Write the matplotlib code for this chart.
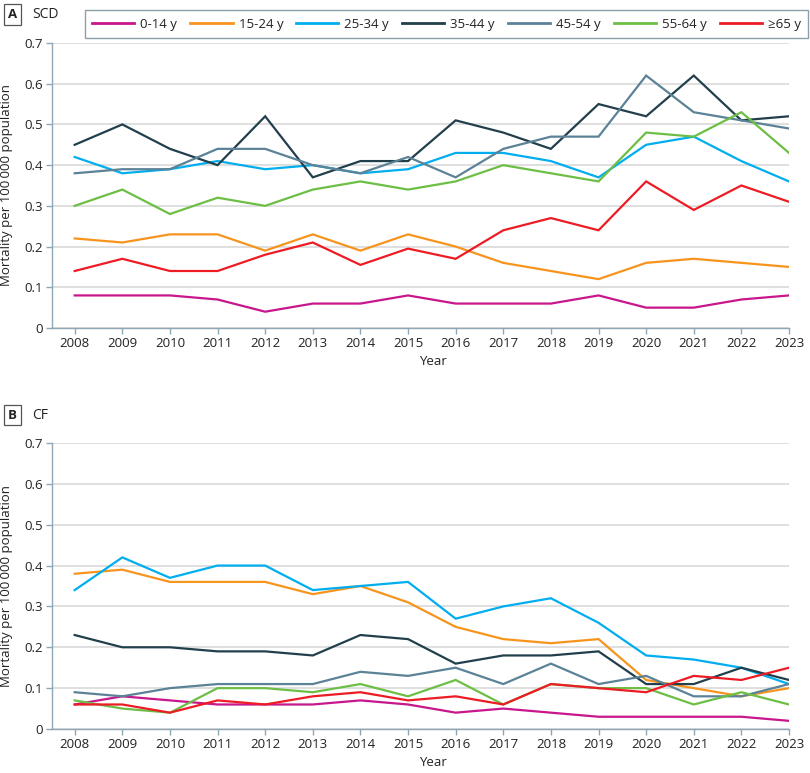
import matplotlib
matplotlib.use("Agg")
import matplotlib.pyplot as plt
from matplotlib.ticker import FuncFormatter

plt.rcParams['font.family'] = ['Open Sans', 'DejaVu Sans']

years = list(range(2008, 2024))
groups = ["0-14 y", "15-24 y", "25-34 y", "35-44 y", "45-54 y", "55-64 y", "≥65 y"]
colors = ["#C8168C", "#F7941D", "#00AEEF", "#223F4C", "#5B8297", "#6DBE45", "#ED1C24"]

scd_0_14 = [0.08, 0.08, 0.08, 0.07, 0.04, 0.06, 0.06, 0.08, 0.06, 0.06, 0.06, 0.08, 0.05, 0.05, 0.07, 0.08]
scd_15_24 = [0.22, 0.21, 0.23, 0.23, 0.19, 0.23, 0.19, 0.23, 0.20, 0.16, 0.14, 0.12, 0.16, 0.17, 0.16, 0.15]
scd_25_34 = [0.42, 0.38, 0.39, 0.41, 0.39, 0.40, 0.38, 0.39, 0.43, 0.43, 0.41, 0.37, 0.45, 0.47, 0.41, 0.36]
scd_35_44 = [0.45, 0.50, 0.44, 0.40, 0.52, 0.37, 0.41, 0.41, 0.51, 0.48, 0.44, 0.55, 0.52, 0.62, 0.51, 0.52]
scd_45_54 = [0.38, 0.39, 0.39, 0.44, 0.44, 0.40, 0.38, 0.42, 0.37, 0.44, 0.47, 0.47, 0.62, 0.53, 0.51, 0.49]
scd_55_64 = [0.30, 0.34, 0.28, 0.32, 0.30, 0.34, 0.36, 0.34, 0.36, 0.40, 0.38, 0.36, 0.48, 0.47, 0.53, 0.43]
scd_65 = [0.14, 0.17, 0.14, 0.14, 0.18, 0.21, 0.155, 0.195, 0.17, 0.24, 0.27, 0.24, 0.36, 0.29, 0.35, 0.31]

cf_0_14 = [0.06, 0.08, 0.07, 0.06, 0.06, 0.06, 0.07, 0.06, 0.04, 0.05, 0.04, 0.03, 0.03, 0.03, 0.03, 0.02]
cf_15_24 = [0.38, 0.39, 0.36, 0.36, 0.36, 0.33, 0.35, 0.31, 0.25, 0.22, 0.21, 0.22, 0.12, 0.10, 0.08, 0.10]
cf_25_34 = [0.34, 0.42, 0.37, 0.40, 0.40, 0.34, 0.35, 0.36, 0.27, 0.30, 0.32, 0.26, 0.18, 0.17, 0.15, 0.11]
cf_35_44 = [0.23, 0.20, 0.20, 0.19, 0.19, 0.18, 0.23, 0.22, 0.16, 0.18, 0.18, 0.19, 0.11, 0.11, 0.15, 0.12]
cf_45_54 = [0.09, 0.08, 0.10, 0.11, 0.11, 0.11, 0.14, 0.13, 0.15, 0.11, 0.16, 0.11, 0.13, 0.08, 0.08, 0.11]
cf_55_64 = [0.07, 0.05, 0.04, 0.10, 0.10, 0.09, 0.11, 0.08, 0.12, 0.06, 0.11, 0.10, 0.10, 0.06, 0.09, 0.06]
cf_65 = [0.06, 0.06, 0.04, 0.07, 0.06, 0.08, 0.09, 0.07, 0.08, 0.06, 0.11, 0.10, 0.09, 0.13, 0.12, 0.15]

scd = [scd_0_14, scd_15_24, scd_25_34, scd_35_44, scd_45_54, scd_55_64, scd_65]
cf = [cf_0_14, cf_15_24, cf_25_34, cf_35_44, cf_45_54, cf_55_64, cf_65]

W, H = 810, 773
fig = plt.figure(figsize=(W / 100, H / 100), dpi=100)

spine_c = "#8FA6B4"
grid_c = "#DCDCDC"
text_c = "#222222"

def make_ax(top_px, bottom_px):
    left, right = 51.7, 789
    ax = fig.add_axes([left / W, 1 - bottom_px / H, (right - left) / W, (bottom_px - top_px) / H])
    return ax

axA = make_ax(43, 328)
axB = make_ax(443, 729)

lines = []
for ax, data in [(axA, scd), (axB, cf)]:
    for i, (g, c) in enumerate(zip(groups, colors)):
        ln, = ax.plot(years, data[i], color=c, lw=1.6, label=g, zorder=3 + i, solid_joinstyle='miter')
        if ax is axA:
            lines.append(ln)
    ax.set_xlim(2007.517, 2023)
    ax.set_ylim(0, 0.7)
    ax.set_xticks(years)
    ax.set_yticks([0, 0.1, 0.2, 0.3, 0.4, 0.5, 0.6, 0.7])
    ax.yaxis.set_major_formatter(FuncFormatter(lambda v, p: "0" if abs(v) < 1e-9 else f"{v:.1f}"))
    ax.grid(axis='y', color=grid_c, lw=1.3, zorder=0)
    ax.set_axisbelow(True)
    for s in ['top', 'right']:
        ax.spines[s].set_visible(False)
    for s in ['left', 'bottom']:
        ax.spines[s].set_color(spine_c)
        ax.spines[s].set_linewidth(1.0)
    ax.tick_params(axis='both', colors=spine_c, labelcolor=text_c, labelsize=9.5, length=4, width=1.0, pad=2.5)
    ax.set_ylabel("Mortality per 100\u2009000 population", fontsize=9.5, color=text_c)
    ax.yaxis.set_label_coords(-0.052, 0.5)
    ax.set_xlabel("Year", fontsize=9.5, color=text_c)
    ax.xaxis.set_label_coords(0.517, -0.095)

# Panel labels
for label, name, ypx in [("A", "SCD", 14.5), ("B", "CF", 415)]:
    fig.text(8 / W, 1 - ypx / H, label, fontsize=9.5, fontweight='bold', color=text_c,
             va='center', ha='left',
             bbox=dict(boxstyle='square,pad=0.3', fc='white', ec='#555555', lw=0.9))
    fig.text(32 / W, 1 - ypx / H, name, fontsize=10, color=text_c, va='center', ha='left')

leg = fig.legend(handles=lines, labels=groups, loc='lower left', ncol=7,
                 bbox_to_anchor=(85 / W, 1 - 38 / H, (808 - 85) / W, 35 / H),
                 mode='expand', borderaxespad=0, frameon=True, fancybox=False,
                 fontsize=9.5, handlelength=3.2, handletextpad=0.45,
                 borderpad=0.55)
leg.get_frame().set_edgecolor("#6E8793")
leg.get_frame().set_linewidth(1.0)
for t in leg.get_texts():
    t.set_color(text_c)
for h in leg.get_lines():
    h.set_linewidth(2.0)

fig.savefig("out.png", dpi=100)
